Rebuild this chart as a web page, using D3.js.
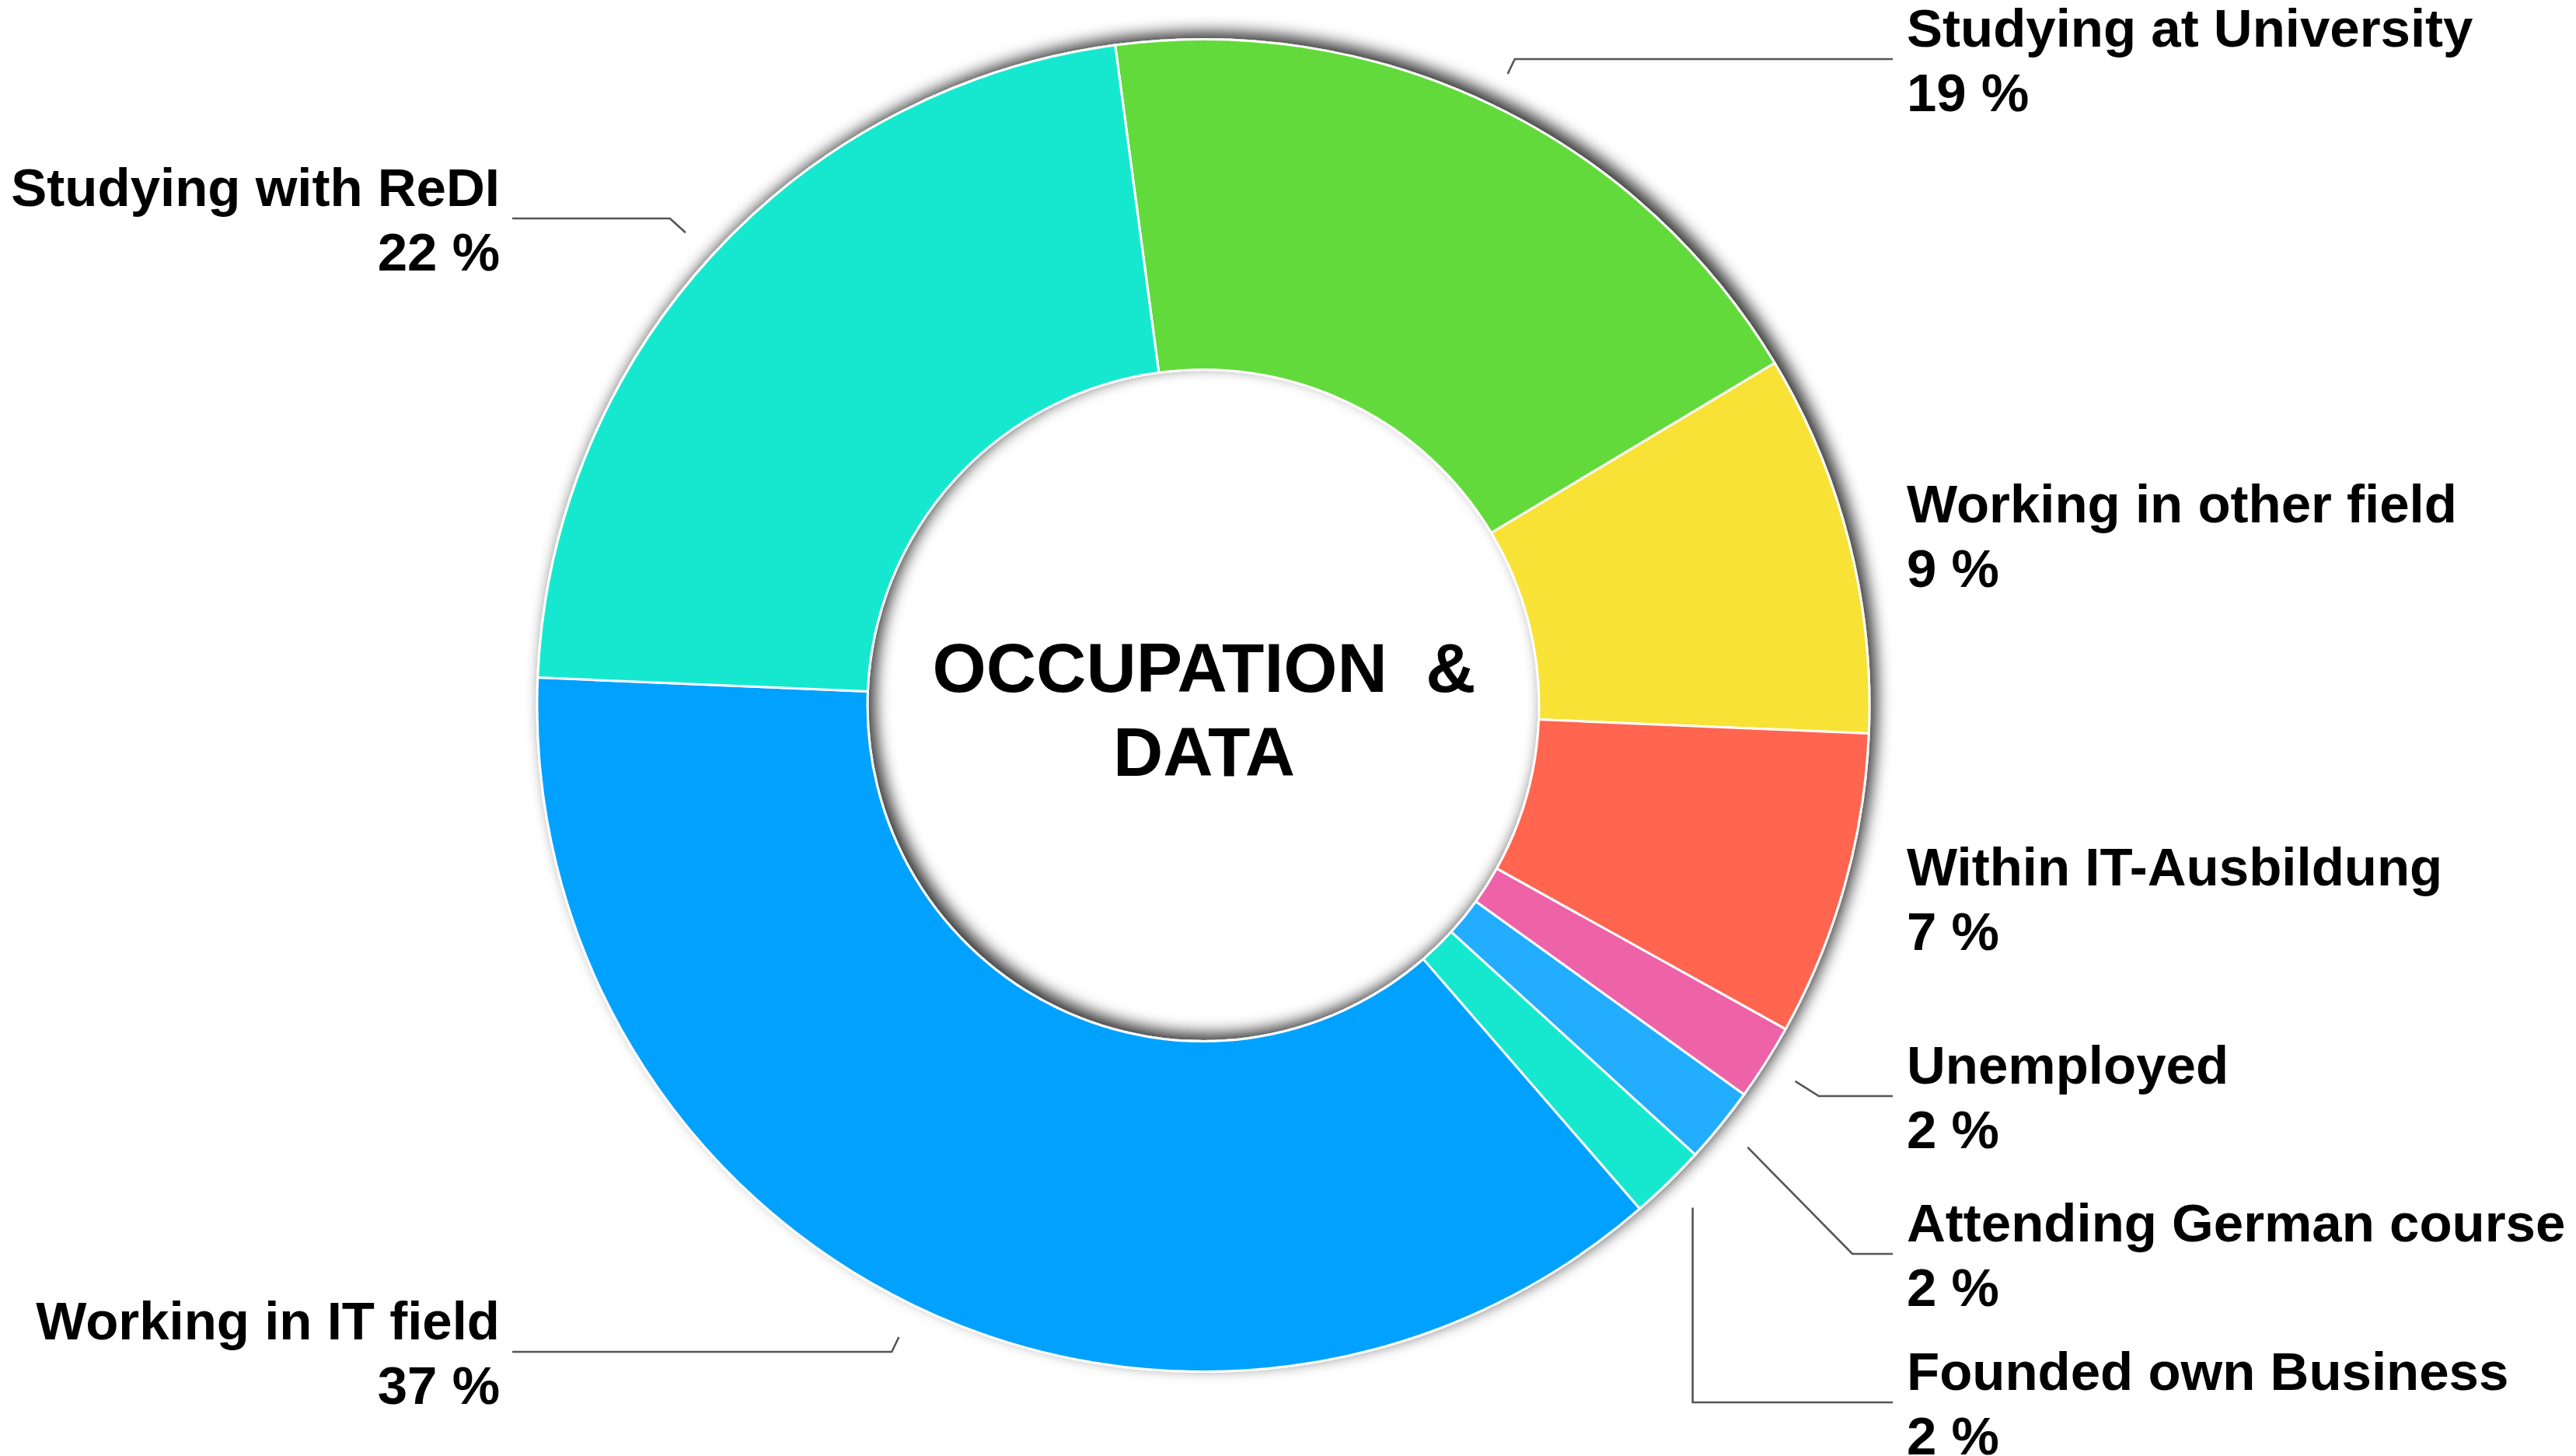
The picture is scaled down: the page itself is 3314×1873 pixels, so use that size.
<!DOCTYPE html>
<html>
<head>
<meta charset="utf-8">
<script src="https://cdn.jsdelivr.net/npm/d3@7"></script>
<style>
  body { margin: 0; background: #fff; }
  text { font-family: "Liberation Sans", Arial, Helvetica, sans-serif; font-weight: bold; }
</style>
</head>
<body>
<div id="chart"></div>
<script>
// slices in clockwise order, starting just left of 12 o'clock
const categories = ["Studying at University", "Working in other field", "Within IT-Ausbildung",
    "Unemployed", "Attending German course", "Founded own Business",
    "Working in IT field", "Studying with ReDI"];
// respondent counts (54 in total)
const counts = [10, 5, 4, 1, 1, 1, 20, 12];
const colors = ["#62DA3A", "#F8E234", "#FF6550", "#EE62A8", "#22ADFF", "#18E8D0", "#00A1FF", "#18E8D0"];
const titleLines = ["OCCUPATION\u00A0 &", "DATA"];

// label placement (layout only): side, first baseline, leader style
const labelLayout = [
    { side: "right", y: 60,   leader: "radial" },
    { side: "right", y: 672,  leader: "none" },
    { side: "right", y: 1139, leader: "none" },
    { side: "right", y: 1394, leader: "radial" },
    { side: "right", y: 1597, leader: "elbow", elbowX: 2383 },
    { side: "right", y: 1788, leader: "vertical" },
    { side: "left",  y: 1723, leader: "radial" },
    { side: "left",  y: 265,  leader: "radial" }
];

class OccupationDonut {
    constructor(parentElement) {
        this.parentElement = parentElement;
        const total = d3.sum(counts);
        this.data = categories.map((c, i) => ({
            name: c,
            value: counts[i],
            pct: Math.round(100 * counts[i] / total),
            color: colors[i],
            layout: labelLayout[i]
        }));
        this.initVis();
    }

    initVis() {
        let vis = this;

        vis.width = 3314;
        vis.height = 1873;
        vis.cx = 1548;
        vis.cy = 907.5;
        vis.outer = 857;
        vis.inner = 432;

        vis.svg = d3.select(`#${vis.parentElement}`)
            .append("svg")
            .attr("width", vis.width)
            .attr("height", vis.height);

        // drop shadow for the ring
        let filter = vis.svg.append("defs").append("filter")
            .attr("id", "ringShadow")
            .attr("x", "-20%").attr("y", "-20%")
            .attr("width", "140%").attr("height", "140%");
        filter.append("feDropShadow")
            .attr("dx", 8).attr("dy", -8)
            .attr("stdDeviation", 10)
            .attr("flood-color", "#000")
            .attr("flood-opacity", 0.8);

        const start = -7.6 * Math.PI / 180;
        vis.pie = d3.pie()
            .sort(null)
            .value(d => d.value)
            .startAngle(start)
            .endAngle(start + 2 * Math.PI);

        vis.arc = d3.arc()
            .innerRadius(vis.inner)
            .outerRadius(vis.outer);

        vis.arcs = vis.pie(vis.data);

        vis.chart = vis.svg.append("g")
            .attr("transform", `translate(${vis.cx},${vis.cy})`);

        vis.chart.append("g")
            .attr("filter", "url(#ringShadow)")
            .selectAll("path")
            .data(vis.arcs)
            .join("path")
            .attr("d", vis.arc)
            .attr("fill", d => d.data.color)
            .attr("stroke", "#fff")
            .attr("stroke-width", 3)
            .attr("stroke-linejoin", "round");

        // centre title
        vis.chart.append("text")
            .attr("text-anchor", "middle")
            .attr("font-size", 89)
            .attr("fill", "#000")
            .selectAll("tspan")
            .data(titleLines)
            .join("tspan")
            .attr("x", 1)
            .attr("y", (d, i) => -18 + i * 108)
            .text(d => d);

        vis.drawLabels();
    }

    drawLabels() {
        let vis = this;

        const rightX = 2453, leftX = 643;
        const lineStartR = 902;

        let labels = vis.svg.append("g").attr("class", "labels");

        // leader lines
        let leaders = vis.arcs.filter(d => d.data.layout.leader !== "none");
        labels.selectAll("path.leader")
            .data(leaders)
            .join("path")
            .attr("class", "leader")
            .attr("fill", "none")
            .attr("stroke", "#555")
            .attr("stroke-width", 2.6)
            .attr("d", d => {
                const lay = d.data.layout;
                const mid = (d.startAngle + d.endAngle) / 2;
                const sx = vis.cx + lineStartR * Math.sin(mid);
                const sy = vis.cy - lineStartR * Math.cos(mid);
                const ly = lay.y + 16;
                let bx, by = ly;
                if (lay.leader === "radial") {
                    const r = (ly - vis.cy) / -Math.cos(mid);
                    bx = vis.cx + r * Math.sin(mid);
                } else if (lay.leader === "elbow") {
                    bx = lay.elbowX;
                } else {
                    bx = sx;
                }
                const ex = lay.side === "right" ? rightX - 18 : leftX + 16;
                return d3.line()([[sx, sy], [bx, by], [ex, ly]]);
            });

        // label texts
        let txt = labels.selectAll("text")
            .data(vis.arcs)
            .join("text")
            .attr("font-size", 69)
            .attr("fill", "#000")
            .attr("text-anchor", d => d.data.layout.side === "right" ? "start" : "end");

        txt.append("tspan")
            .attr("x", d => d.data.layout.side === "right" ? rightX : leftX)
            .attr("y", d => d.data.layout.y)
            .text(d => d.data.name);

        txt.append("tspan")
            .attr("x", d => d.data.layout.side === "right" ? rightX : leftX)
            .attr("y", d => d.data.layout.y + 83)
            .text(d => `${d.data.pct} %`);
    }
}

new OccupationDonut("chart");
</script>
</body>
</html>
